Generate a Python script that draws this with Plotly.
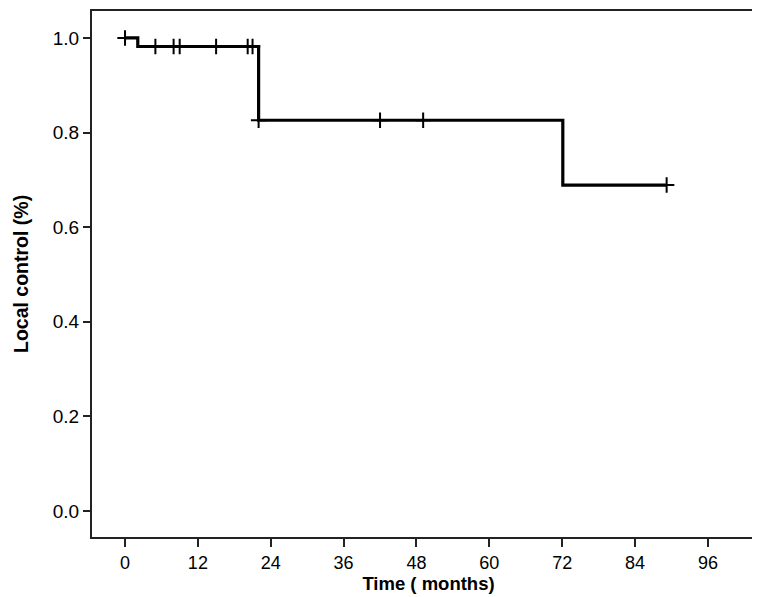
import plotly.graph_objects as go

# Kaplan-Meier step data (months, local control)
step_times = [0, 2.1, 22.0, 72.1, 89.2]
step_surv = [1.0, 0.982, 0.826, 0.689, 0.689]

# censored observations (months)
censor_times = [0, 5.0, 8.0, 9.0, 15.0, 20.2, 21.0, 22.0, 42.0, 49.1, 89.2]

x_ticks = [0, 12, 24, 36, 48, 60, 72, 84, 96]
y_ticks = [0.0, 0.2, 0.4, 0.6, 0.8, 1.0]


def surv_at(t):
    val = step_surv[0]
    for st, sv in zip(step_times, step_surv):
        if t >= st:
            val = sv
    return val


censor_surv = [surv_at(t) for t in censor_times]

FONT = "Liberation Sans, Arial, sans-serif"
L, R, T, B = 84, 3, 3, 68
W, H = 760, 597
plot_w = W - L - R

fig = go.Figure()
fig.add_trace(go.Scatter(
    x=step_times, y=step_surv, mode="lines",
    line=dict(shape="hv", color="black", width=3.2),
    showlegend=False, hoverinfo="skip"))
fig.add_trace(go.Scatter(
    x=censor_times, y=censor_surv, mode="markers",
    marker=dict(symbol="cross-thin", size=11,
                line=dict(color="black", width=2)),
    showlegend=False))

fig.add_annotation(
    text="<b>Local control (%)</b>", textangle=-90,
    xref="paper", yref="paper", x=-(L - 13) / plot_w, y=0.5,
    xanchor="center", yanchor="middle", showarrow=False,
    font=dict(family=FONT, size=19.5, color="black"))

fig.update_layout(
    width=W, height=H,
    margin=dict(l=L, r=R, t=T, b=B),
    paper_bgcolor="white", plot_bgcolor="white",
    font=dict(family=FONT, color="black", size=18),
    xaxis=dict(
        range=[-5.44, 105.4], tickvals=x_ticks,
        ticktext=[str(v) for v in x_ticks],
        showgrid=False, zeroline=False, automargin=False,
        showline=True, mirror=True, linecolor="#222", linewidth=2,
        ticks="outside", ticklen=8, tickwidth=1.5, tickcolor="#222",
        tickfont=dict(size=18),
        title=dict(text="Time ( months)", standoff=4,
                   font=dict(size=18.5, weight="bold")),
    ),
    yaxis=dict(
        range=[-0.055, 1.057], tickvals=y_ticks,
        ticktext=[f"{v:.1f}" for v in y_ticks],
        showgrid=False, zeroline=False, automargin=False,
        showline=True, mirror=True, linecolor="#222", linewidth=2,
        ticks="outside", ticklen=7, tickwidth=1.5, tickcolor="#222",
        tickfont=dict(size=19),
    ),
)

fig.write_html("out.html")
